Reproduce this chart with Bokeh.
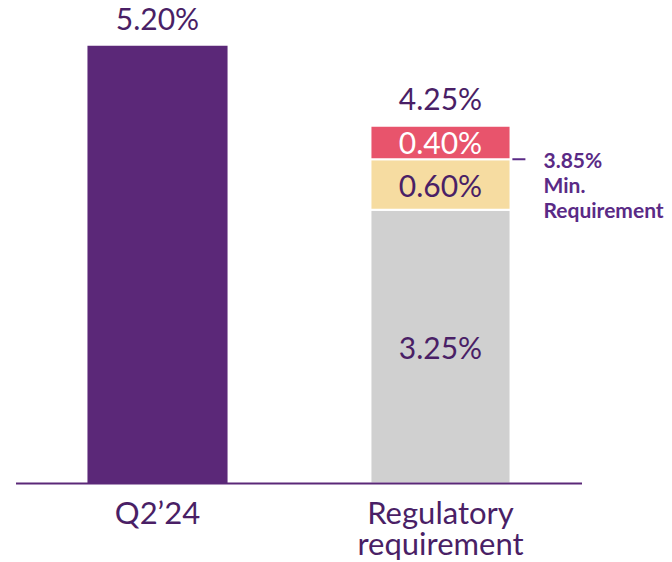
from bokeh.plotting import figure
from bokeh.models import Range1d
from bokeh.core.properties import value
from bokeh.embed import file_html
from bokeh.resources import INLINE

# ---- data ----
categories = ["Q2\u201924", "Regulatory\nrequirement"]
q2_value = 5.20
reg_segments = [3.25, 0.60, 0.40]
reg_segment_labels = ["3.25%", "0.60%", "0.40%"]
reg_total = 4.25
min_requirement = 3.85
min_req_lines = ["3.85%", "Min.", "Requirement"]

# ---- styles ----
PURPLE = "#5B2878"
TEXT = "#4A1F66"
ANNOT = "#5A2A86"
SEG_COLORS = ["#D0D0D0", "#F6DCA1", "#E8546C"]
SEG_TEXT = [TEXT, TEXT, "white"]
FONT = value("Lato")
BAR_W = 0.495

p = figure(width=672, height=562, output_backend="svg", toolbar_location=None,
           x_range=Range1d(-0.5548, 1.8198), y_range=Range1d(-0.938, 5.736),
           min_border=0, outline_line_color=None)
p.xaxis.visible = False
p.yaxis.visible = False
p.grid.visible = False
p.background_fill_color = "white"

xs = [0, 1]

# Bar 1
p.vbar(x=[xs[0]], top=[q2_value], bottom=[0], width=BAR_W, fill_color=PURPLE, line_color=None)
p.text(x=[xs[0]], y=[q2_value], text=[f"{q2_value:.2f}%"], text_align="center",
       text_baseline="bottom", y_offset=-10, text_font=FONT, text_font_size="30px", text_color=TEXT)

# Bar 2 stacked
bottoms = []
acc = 0.0
for v in reg_segments:
    bottoms.append(acc)
    acc += v
tops = [b + v for b, v in zip(bottoms, reg_segments)]
p.vbar(x=[xs[1]] * 3, top=tops, bottom=bottoms, width=BAR_W, fill_color=SEG_COLORS,
       line_color="white", line_width=2)
p.text(x=[xs[1]] * 3, y=[(b + t) / 2 for b, t in zip(bottoms, tops)], text=reg_segment_labels,
       text_align="center", text_baseline="middle", text_font=FONT, text_font_size="30px",
       text_color=SEG_TEXT)
p.text(x=[xs[1]], y=[reg_total], text=[f"{reg_total:.2f}%"], text_align="center",
       text_baseline="bottom", y_offset=-10, text_font=FONT, text_font_size="30px", text_color=TEXT)

# Min requirement marker
p.segment(x0=[xs[1] + 0.254], x1=[xs[1] + 0.300], y0=[min_requirement], y1=[min_requirement],
          line_color=ANNOT, line_width=2)
p.text(x=[xs[1] + 0.364] * 3, y=[min_requirement] * 3, text=min_req_lines,
       y_offset=[0, 25, 50], text_align="left", text_baseline="middle",
       text_font=FONT, text_font_size="21px", text_font_style="bold", text_color=ANNOT)

# Baseline axis line
p.segment(x0=[xs[0] - 0.5], x1=[xs[1] + 0.5], y0=[0], y1=[0], line_color=PURPLE, line_width=2)

# Category labels (one text per line)
lx, ltxt, loff = [], [], []
for x, cat in zip(xs, categories):
    for i, line in enumerate(cat.split("\n")):
        lx.append(x)
        ltxt.append(line)
        loff.append(28 + 31 * i)
p.text(x=lx, y=[0] * len(lx), text=ltxt, y_offset=loff, text_align="center",
       text_baseline="middle", text_font=FONT, text_font_size="31px", text_color=TEXT)

open("out.html", "w").write(file_html(p, INLINE))
